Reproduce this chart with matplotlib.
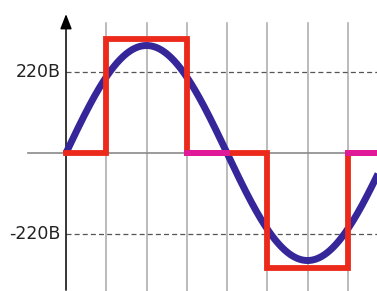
import numpy as np
import matplotlib.pyplot as plt

# modified sine (step) wave: angle in degrees, level in volts
STEP_DEG = [0, 45, 45, 135, 135, 180, 180, 225, 225, 315, 315, 360]
STEP_V = [0, 0, 311, 311, 0, 0, 0, 0, -311, -311, 0, 0]
# segments of the zero level drawn in magenta
ZERO_PINK = [(135, 180), (315, 360)]
SINE_AMPL = 292
GRID_DEG = [45, 90, 135, 180, 225, 270, 315]
LEVELS = [220, -220]
LEVEL_LABELS = ["220B", "-220B"]

fig = plt.figure(figsize=(3.77, 2.91), dpi=100)
ax = fig.add_axes([0, 0, 1, 1])
ax.set_xlim(-73.8, 347.7)
ax.set_ylim(-374.8, 415.6)
ax.axis("off")

# grid
for g in GRID_DEG:
    ax.plot([g, g], [-380, 353], color="#a8a8a8", lw=1.1, zorder=1)
for lv, lab in zip(LEVELS, LEVEL_LABELS):
    ax.plot([0, 360], [lv, lv], color="#555555", lw=0.9, ls=(0, (4, 2.5)), zorder=1)
    ax.text(-6, lv, lab, ha="right", va="center", fontsize=12.5,
            family="DejaVu Sans", color="#222222")

# axes
ax.plot([-42.5, 360], [0, 0], color="#8a8a8a", lw=1.2, zorder=1)
ax.annotate("", xy=(0, 385), xytext=(0, -380),
            arrowprops=dict(arrowstyle="-|>,head_length=0.9,head_width=0.35",
                            color="black", lw=1.1), zorder=2)

# sine
deg = np.linspace(0, 360, 400)
ax.plot(deg, SINE_AMPL * np.sin(np.radians(deg)), color="#35269a", lw=5.0,
        solid_capstyle="butt", zorder=3)

# step wave
ax.plot(STEP_DEG, STEP_V, color="#ec2a1c", lw=4.2, solid_joinstyle="miter", zorder=4)
for a, b in ZERO_PINK:
    ax.plot([a, b], [0, 0], color="#e0189a", lw=4.2, zorder=4)

fig.savefig("out.png", dpi=100)
